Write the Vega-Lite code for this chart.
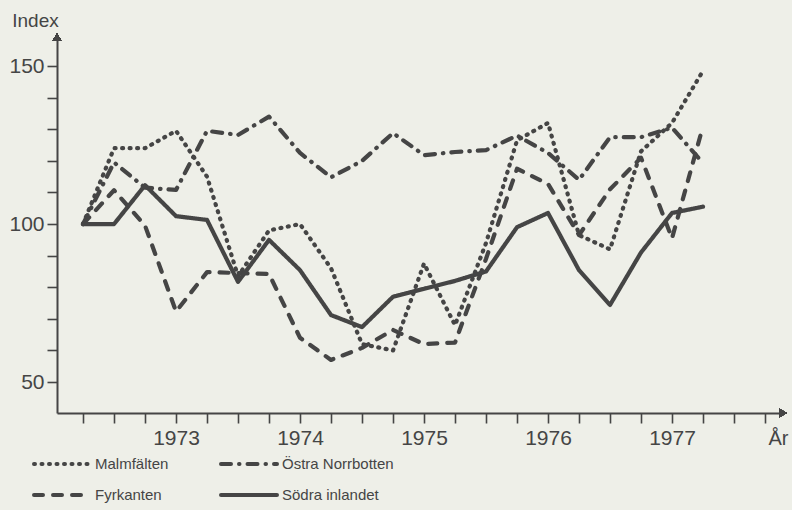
{
  "$schema": "https://vega.github.io/schema/vega-lite/v6.json",
  "width": 726,
  "height": 376,
  "autosize": "none",
  "padding": {"left": 57, "top": 37, "right": 9, "bottom": 97},
  "background": "#eeefe8",
  "config": {"view": {"stroke": null}, "font": "Liberation Sans"},
  "data": {
    "values": [
      {"t": 1972.25, "s": "Malmfälten", "v": 100},
      {"t": 1972.5, "s": "Malmfälten", "v": 124},
      {"t": 1972.75, "s": "Malmfälten", "v": 124},
      {"t": 1973.0, "s": "Malmfälten", "v": 129.5},
      {"t": 1973.25, "s": "Malmfälten", "v": 115},
      {"t": 1973.5, "s": "Malmfälten", "v": 83.5},
      {"t": 1973.75, "s": "Malmfälten", "v": 98},
      {"t": 1974.0, "s": "Malmfälten", "v": 100},
      {"t": 1974.25, "s": "Malmfälten", "v": 86},
      {"t": 1974.5, "s": "Malmfälten", "v": 62},
      {"t": 1974.75, "s": "Malmfälten", "v": 60},
      {"t": 1975.0, "s": "Malmfälten", "v": 87.5},
      {"t": 1975.25, "s": "Malmfälten", "v": 68},
      {"t": 1975.5, "s": "Malmfälten", "v": 94},
      {"t": 1975.75, "s": "Malmfälten", "v": 126.5},
      {"t": 1976.0, "s": "Malmfälten", "v": 132},
      {"t": 1976.25, "s": "Malmfälten", "v": 96.5},
      {"t": 1976.5, "s": "Malmfälten", "v": 92},
      {"t": 1976.75, "s": "Malmfälten", "v": 123},
      {"t": 1977.0, "s": "Malmfälten", "v": 132},
      {"t": 1977.25, "s": "Malmfälten", "v": 148.5},
      {"t": 1972.25, "s": "Östra Norrbotten", "v": 100},
      {"t": 1972.5, "s": "Östra Norrbotten", "v": 119.5},
      {"t": 1972.75, "s": "Östra Norrbotten", "v": 111.5},
      {"t": 1973.0, "s": "Östra Norrbotten", "v": 110.8},
      {"t": 1973.25, "s": "Östra Norrbotten", "v": 129.5},
      {"t": 1973.5, "s": "Östra Norrbotten", "v": 128.2},
      {"t": 1973.75, "s": "Östra Norrbotten", "v": 134},
      {"t": 1974.0, "s": "Östra Norrbotten", "v": 122.5},
      {"t": 1974.25, "s": "Östra Norrbotten", "v": 114.8},
      {"t": 1974.5, "s": "Östra Norrbotten", "v": 120},
      {"t": 1974.75, "s": "Östra Norrbotten", "v": 128.8},
      {"t": 1975.0, "s": "Östra Norrbotten", "v": 121.8},
      {"t": 1975.25, "s": "Östra Norrbotten", "v": 122.8},
      {"t": 1975.5, "s": "Östra Norrbotten", "v": 123.4},
      {"t": 1975.75, "s": "Östra Norrbotten", "v": 128},
      {"t": 1976.0, "s": "Östra Norrbotten", "v": 122.5},
      {"t": 1976.25, "s": "Östra Norrbotten", "v": 114},
      {"t": 1976.5, "s": "Östra Norrbotten", "v": 127.5},
      {"t": 1976.75, "s": "Östra Norrbotten", "v": 127.5},
      {"t": 1977.0, "s": "Östra Norrbotten", "v": 130.5},
      {"t": 1977.25, "s": "Östra Norrbotten", "v": 119.3},
      {"t": 1972.25, "s": "Fyrkanten", "v": 100},
      {"t": 1972.5, "s": "Fyrkanten", "v": 110.7},
      {"t": 1972.75, "s": "Fyrkanten", "v": 99.5},
      {"t": 1973.0, "s": "Fyrkanten", "v": 72.3},
      {"t": 1973.25, "s": "Fyrkanten", "v": 84.8},
      {"t": 1973.5, "s": "Fyrkanten", "v": 84.5},
      {"t": 1973.75, "s": "Fyrkanten", "v": 84.2},
      {"t": 1974.0, "s": "Fyrkanten", "v": 64},
      {"t": 1974.25, "s": "Fyrkanten", "v": 57},
      {"t": 1974.5, "s": "Fyrkanten", "v": 60.8},
      {"t": 1974.75, "s": "Fyrkanten", "v": 66.5},
      {"t": 1975.0, "s": "Fyrkanten", "v": 62},
      {"t": 1975.25, "s": "Fyrkanten", "v": 62.5},
      {"t": 1975.5, "s": "Fyrkanten", "v": 89},
      {"t": 1975.75, "s": "Fyrkanten", "v": 117.5},
      {"t": 1976.0, "s": "Fyrkanten", "v": 112.7},
      {"t": 1976.25, "s": "Fyrkanten", "v": 96.5},
      {"t": 1976.5, "s": "Fyrkanten", "v": 111},
      {"t": 1976.75, "s": "Fyrkanten", "v": 121},
      {"t": 1977.0, "s": "Fyrkanten", "v": 95.5},
      {"t": 1977.25, "s": "Fyrkanten", "v": 131},
      {"t": 1972.25, "s": "Södra inlandet", "v": 100},
      {"t": 1972.5, "s": "Södra inlandet", "v": 100},
      {"t": 1972.75, "s": "Södra inlandet", "v": 112.3},
      {"t": 1973.0, "s": "Södra inlandet", "v": 102.5},
      {"t": 1973.25, "s": "Södra inlandet", "v": 101.3},
      {"t": 1973.5, "s": "Södra inlandet", "v": 81.7},
      {"t": 1973.75, "s": "Södra inlandet", "v": 95},
      {"t": 1974.0, "s": "Södra inlandet", "v": 85.4},
      {"t": 1974.25, "s": "Södra inlandet", "v": 71.2},
      {"t": 1974.5, "s": "Södra inlandet", "v": 67.4},
      {"t": 1974.75, "s": "Södra inlandet", "v": 77},
      {"t": 1975.0, "s": "Södra inlandet", "v": 79.5},
      {"t": 1975.25, "s": "Södra inlandet", "v": 82},
      {"t": 1975.5, "s": "Södra inlandet", "v": 85},
      {"t": 1975.75, "s": "Södra inlandet", "v": 99},
      {"t": 1976.0, "s": "Södra inlandet", "v": 103.5},
      {"t": 1976.25, "s": "Södra inlandet", "v": 85.4},
      {"t": 1976.5, "s": "Södra inlandet", "v": 74.4},
      {"t": 1976.75, "s": "Södra inlandet", "v": 91},
      {"t": 1977.0, "s": "Södra inlandet", "v": 103.5},
      {"t": 1977.25, "s": "Södra inlandet", "v": 105.5}
    ]
  },
  "layer": [
    {
      "mark": {"type": "line", "strokeWidth": 4.2, "strokeCap": "round", "strokeJoin": "round", "color": "#454545"},
      "encoding": {
        "x": {
          "field": "t", "type": "quantitative",
          "scale": {"domain": [1972.04, 1977.895], "nice": false, "zero": false},
          "axis": {
            "values": [1972.25, 1972.5, 1972.75, 1973, 1973.25, 1973.5, 1973.75, 1974, 1974.25, 1974.5, 1974.75, 1975, 1975.25, 1975.5, 1975.75, 1976, 1976.25, 1976.5, 1976.75, 1977, 1977.25, 1977.5, 1977.75],
            "tickCount": 100,
            "labelExpr": "datum.value % 1 == 0 ? format(datum.value, 'd') : ''",
            "labelOverlap": false, "labelFlush": false,
            "grid": false,
            "tickSize": 10, "tickWidth": 1.6, "tickColor": "#454545",
            "domainColor": "#454545", "domainWidth": 2,
            "labelFontSize": 21, "labelColor": "#454545", "labelPadding": 4,
            "title": "År", "titleFontSize": 20, "titleFontWeight": "normal", "titleColor": "#454545",
            "titleAnchor": "end", "titleAlign": "center", "titleX": 721, "titleY": 15, "titleBaseline": "top"
          }
        },
        "y": {
          "field": "v", "type": "quantitative",
          "scale": {"domain": [40.2, 159.2], "nice": false, "zero": false},
          "axis": {
            "values": [50, 60, 70, 80, 90, 100, 110, 120, 130, 140, 150],
            "tickCount": 100,
            "labelExpr": "datum.value % 50 == 0 ? datum.label : ''",
            "grid": false,
            "tickSize": 10, "tickWidth": 1.6, "tickColor": "#454545",
            "domainColor": "#454545", "domainWidth": 2,
            "labelFontSize": 21, "labelColor": "#454545", "labelPadding": 3,
            "title": "Index", "titleFontSize": 19, "titleFontWeight": "normal", "titleColor": "#454545",
            "titleAngle": 0, "titleAlign": "center", "titleX": -22, "titleY": -26, "titleBaseline": "top"
          }
        },
        "strokeDash": {
          "field": "s", "type": "nominal",
          "scale": {
            "domain": ["Malmfälten", "Östra Norrbotten", "Fyrkanten", "Södra inlandet"],
            "range": [[1, 6.5], [10, 8, 0.5, 8], [9, 10], [1, 0]]
          },
          "legend": {
            "orient": "none", "legendX": -25, "legendY": 418,
            "direction": "horizontal",
            "columns": 2, "title": null,
            "symbolType": "M-4,0H4", "symbolSize": 196, "symbolStrokeWidth": 4, "symbolStrokeColor": "#454545",
            "symbolOffset": 21,
            "labelFontSize": 15, "labelFont": "Liberation Sans",
            "labelColor": "#454545", "columnPadding": 44, "rowPadding": 14, "labelOffset": 24,
            "encode": {"symbols": {"update": {"strokeCap": {"value": "round"}}}}
          }
        }
      }
    },
    {
      "mark": {"type": "point", "shape": "triangle-up", "filled": true, "size": 70, "color": "#454545", "opacity": 1},
      "encoding": {"x": {"datum": 1972.04, "type": "quantitative"}, "y": {"datum": 159.2, "type": "quantitative"}}
    },
    {
      "mark": {"type": "point", "shape": "triangle-right", "filled": true, "size": 70, "color": "#454545", "opacity": 1},
      "encoding": {"x": {"datum": 1977.895, "type": "quantitative"}, "y": {"datum": 40.2, "type": "quantitative"}}
    }
  ]
}
